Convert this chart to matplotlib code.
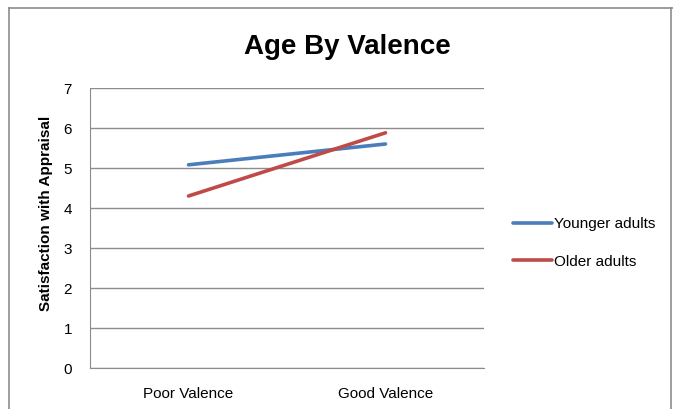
import matplotlib
matplotlib.use("Agg")
import matplotlib.pyplot as plt
from matplotlib.lines import Line2D

categories = ["Poor Valence", "Good Valence"]
younger = [5.08, 5.60]
older = [4.30, 5.88]
yticks = [0, 1, 2, 3, 4, 5, 6, 7]

W, H = 673, 409
fig = plt.figure(figsize=(W/100, H/100), dpi=100)
plt.rcParams['font.family'] = ['Liberation Sans', 'DejaVu Sans']

# outer chart frame
fig.add_artist(Line2D([9/W, 9/W], [0, 1-8/H], transform=fig.transFigure, color='#8c8c8c', lw=1.2))
fig.add_artist(Line2D([9/W, 1], [1-8/H, 1-8/H], transform=fig.transFigure, color='#8c8c8c', lw=1.2))
fig.add_artist(Line2D([671/W, 671/W], [0, 1-8/H], transform=fig.transFigure, color='#8c8c8c', lw=1.2))

left, right, top, bottom = 90, 484, 88, 368
ax = fig.add_axes([left/W, 1-bottom/H, (right-left)/W, (bottom-top)/H])
x = [0.5, 1.5]
ax.plot(x, younger, color='#4a7ebb', lw=2.6, label='Younger adults', solid_capstyle='round')
ax.plot(x, older, color='#be4b48', lw=2.6, label='Older adults', solid_capstyle='round')
ax.set_xlim(0, 2)
ax.set_ylim(0, 7)
ax.set_yticks(yticks)
ax.set_xticks(x)
ax.set_xticklabels(categories)
ax.yaxis.grid(True, color='#8c8c8c', lw=1)
ax.set_axisbelow(True)
for s in ['top', 'right']:
    ax.spines[s].set_visible(False)
ax.spines['left'].set_color('#8c8c8c')
ax.spines['bottom'].set_color('#8c8c8c')
ax.tick_params(axis='both', length=0, labelsize=11, colors='#000000')
ax.tick_params(axis='y', pad=13)
ax.tick_params(axis='x', pad=14)
fig.text(46/W, 1-213/H, 'Satisfaction with Appraisal', fontsize=11, fontweight='bold',
         rotation=90, ha='center', va='center')
fig.text(347/W, 1-47/H, 'Age By Valence', fontsize=20, fontweight='bold', ha='center', va='center')
ax.legend(loc='center left', bbox_to_anchor=(499/W, 1-243/H), bbox_transform=fig.transFigure,
          frameon=False, fontsize=11, handlelength=2.55, handletextpad=0.15, labelspacing=1.55)
fig.savefig('out.png', dpi=100)
